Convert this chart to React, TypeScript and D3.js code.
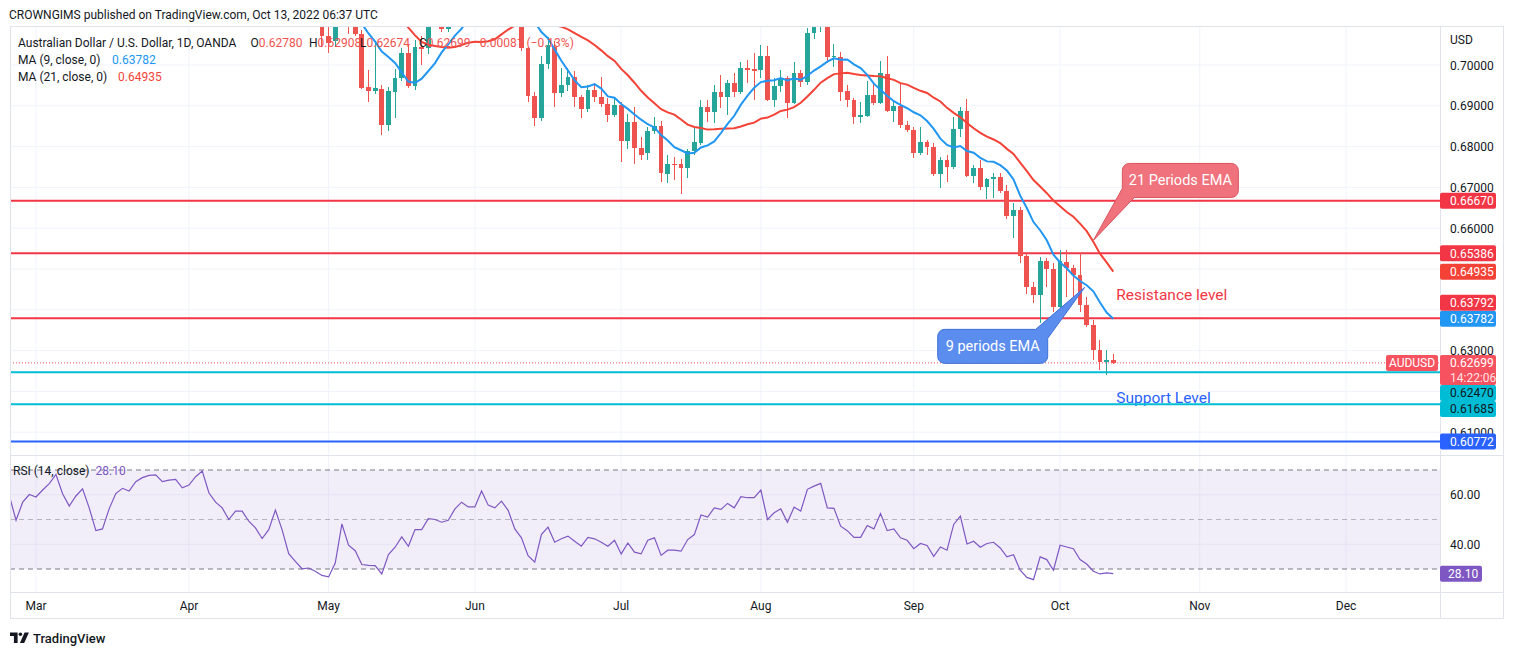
import React from 'react';
import * as d3 from 'd3';

const FONT = "Roboto, 'Liberation Sans', Arial, sans-serif";
const W = 1514;
const H = 655;

// AUDUSD daily bars, one per weekday starting Feb 23 2022
const opens = [
  0.7265, 0.7235, 0.717, 0.723, 0.7265, 0.7255, 0.7285, 0.732, 0.736, 0.73,
  0.727, 0.731, 0.733, 0.7285, 0.721, 0.7215, 0.728, 0.7365, 0.739, 0.7385,
  0.745, 0.7475, 0.749, 0.7495, 0.747, 0.748, 0.7485, 0.7465, 0.748, 0.754,
  0.759, 0.753, 0.7495, 0.747, 0.742, 0.7455, 0.7455, 0.741, 0.739, 0.735,
  0.7375, 0.7445, 0.738, 0.7245, 0.718, 0.715, 0.715, 0.7125, 0.707, 0.7058,
  0.71, 0.724, 0.715, 0.7075, 0.6947, 0.6937, 0.694, 0.6852, 0.6934, 0.6968,
  0.7029, 0.6949, 0.7044, 0.7042, 0.7105, 0.712, 0.7088, 0.7115, 0.716, 0.718,
  0.7175, 0.715, 0.722, 0.719, 0.718, 0.7195, 0.7185, 0.714, 0.7042, 0.6924,
  0.687, 0.7002, 0.7044, 0.6932, 0.6951, 0.697, 0.6922, 0.6891, 0.6939, 0.6922,
  0.6904, 0.6877, 0.6902, 0.6814, 0.6861, 0.6796, 0.6785, 0.6839, 0.685, 0.6733,
  0.6757, 0.6757, 0.6747, 0.679, 0.6808, 0.6896, 0.6886, 0.6935, 0.6922, 0.6957,
  0.6935, 0.6992, 0.6989, 0.6988, 0.7022, 0.6914, 0.6949, 0.6967, 0.6908, 0.698,
  0.6959, 0.7078, 0.71, 0.7115, 0.7019, 0.702, 0.6937, 0.6914, 0.6873, 0.6876,
  0.6927, 0.6907, 0.6978, 0.6888, 0.69, 0.6853, 0.6841, 0.6784, 0.6811, 0.6799,
  0.6733, 0.6767, 0.6749, 0.6842, 0.6888, 0.6728, 0.6747, 0.67, 0.672, 0.6725,
  0.6692, 0.663, 0.6645, 0.6532, 0.6455, 0.6436, 0.652, 0.6499, 0.6406, 0.6518,
  0.6502, 0.6485, 0.6412, 0.6363, 0.6301, 0.6273, 0.6278,
];
const highs = [
  0.729, 0.725, 0.724, 0.7275, 0.7285, 0.73, 0.734, 0.7375, 0.744, 0.733,
  0.733, 0.735, 0.734, 0.73, 0.723, 0.729, 0.737, 0.74, 0.741, 0.746,
  0.749, 0.75, 0.751, 0.75, 0.751, 0.75, 0.7535, 0.751, 0.755, 0.766,
  0.76, 0.755, 0.751, 0.748, 0.747, 0.748, 0.746, 0.742, 0.74, 0.739,
  0.746, 0.746, 0.739, 0.726, 0.7215, 0.7185, 0.717, 0.7135, 0.7095, 0.7135,
  0.7265, 0.7266, 0.716, 0.7085, 0.6988, 0.706, 0.695, 0.6945, 0.699, 0.7042,
  0.705, 0.7062, 0.7072, 0.7125, 0.7135, 0.713, 0.713, 0.717, 0.719, 0.719,
  0.718, 0.723, 0.723, 0.725, 0.723, 0.7283, 0.72, 0.716, 0.7045, 0.6935,
  0.7022, 0.7069, 0.706, 0.6992, 0.6992, 0.6985, 0.6926, 0.6951, 0.6955, 0.6971,
  0.6918, 0.6918, 0.691, 0.6881, 0.6898, 0.6824, 0.6848, 0.6873, 0.6862, 0.6779,
  0.6775, 0.677, 0.6794, 0.6848, 0.6914, 0.6914, 0.6951, 0.6975, 0.6963, 0.698,
  0.7008, 0.7012, 0.703, 0.7048, 0.7047, 0.6968, 0.6988, 0.6973, 0.7008, 0.6988,
  0.709, 0.7137, 0.713, 0.7125, 0.7051, 0.7033, 0.6951, 0.6919, 0.691, 0.696,
  0.6953, 0.701, 0.7021, 0.6915, 0.6956, 0.6862, 0.6848, 0.6848, 0.6816, 0.6808,
  0.6775, 0.6779, 0.6873, 0.6898, 0.6916, 0.6755, 0.6767, 0.6722, 0.6735, 0.6735,
  0.6706, 0.6661, 0.6653, 0.6538, 0.6469, 0.653, 0.6526, 0.6514, 0.6547, 0.6547,
  0.651, 0.6538, 0.6432, 0.6375, 0.6326, 0.6301, 0.62908,
];
const lows = [
  0.722, 0.7102, 0.716, 0.72, 0.723, 0.724, 0.727, 0.73, 0.729, 0.725,
  0.726, 0.728, 0.727, 0.72, 0.7165, 0.719, 0.727, 0.734, 0.736, 0.738,
  0.744, 0.746, 0.747, 0.745, 0.746, 0.747, 0.7455, 0.745, 0.7475, 0.7535,
  0.75, 0.7465, 0.745, 0.74, 0.741, 0.742, 0.739, 0.738, 0.733, 0.734,
  0.736, 0.737, 0.7235, 0.715, 0.713, 0.7115, 0.7105, 0.7045, 0.703, 0.7045,
  0.7092, 0.7075, 0.707, 0.694, 0.691, 0.693, 0.6828, 0.6838, 0.687, 0.696,
  0.6944, 0.6938, 0.7, 0.7028, 0.7098, 0.708, 0.7082, 0.7098, 0.715, 0.714,
  0.713, 0.714, 0.717, 0.7175, 0.715, 0.718, 0.713, 0.7035, 0.691, 0.685,
  0.6862, 0.699, 0.6898, 0.6922, 0.6937, 0.6898, 0.687, 0.6885, 0.691, 0.6898,
  0.6861, 0.6872, 0.6763, 0.6793, 0.6758, 0.6767, 0.6767, 0.683, 0.6714, 0.6712,
  0.6719, 0.6684, 0.6723, 0.678, 0.6804, 0.686, 0.6858, 0.6895, 0.6877, 0.6922,
  0.6929, 0.6955, 0.6914, 0.6968, 0.6912, 0.6898, 0.6935, 0.6869, 0.6904, 0.6947,
  0.695, 0.7063, 0.7082, 0.7005, 0.6995, 0.6912, 0.6897, 0.6855, 0.6858, 0.6872,
  0.6902, 0.6905, 0.6885, 0.686, 0.6846, 0.6836, 0.6772, 0.6779, 0.6779, 0.6728,
  0.6699, 0.6714, 0.6744, 0.6824, 0.6725, 0.671, 0.6694, 0.6671, 0.6673, 0.6686,
  0.6622, 0.6575, 0.6514, 0.6439, 0.6416, 0.6367, 0.6457, 0.6395, 0.6404, 0.6432,
  0.6416, 0.6395, 0.6359, 0.6277, 0.6252, 0.624, 0.62674,
];
const closes = [
  0.7235, 0.717, 0.723, 0.7265, 0.7255, 0.7285, 0.732, 0.736, 0.73, 0.727,
  0.731, 0.733, 0.7285, 0.721, 0.7215, 0.728, 0.7365, 0.739, 0.7385, 0.745,
  0.7475, 0.749, 0.7495, 0.747, 0.748, 0.7485, 0.7465, 0.748, 0.754, 0.759,
  0.753, 0.7495, 0.747, 0.742, 0.7455, 0.7455, 0.741, 0.739, 0.735, 0.7375,
  0.7445, 0.738, 0.7245, 0.718, 0.715, 0.715, 0.7125, 0.707, 0.7055, 0.71,
  0.724, 0.715, 0.7075, 0.6944, 0.6937, 0.6944, 0.6852, 0.6936, 0.6968, 0.7029,
  0.6949, 0.7044, 0.704, 0.7105, 0.712, 0.7088, 0.7115, 0.716, 0.718, 0.7175,
  0.715, 0.722, 0.719, 0.718, 0.7195, 0.7185, 0.714, 0.7042, 0.6924, 0.687,
  0.7002, 0.7049, 0.6932, 0.6951, 0.697, 0.6922, 0.6891, 0.6939, 0.6922, 0.6904,
  0.6877, 0.6902, 0.6814, 0.6861, 0.6796, 0.6779, 0.6839, 0.685, 0.6735, 0.6757,
  0.6755, 0.6747, 0.679, 0.6812, 0.6896, 0.6886, 0.6935, 0.6922, 0.6957, 0.6935,
  0.6992, 0.6988, 0.6986, 0.7022, 0.6914, 0.6949, 0.6967, 0.6908, 0.698, 0.6959,
  0.7078, 0.71, 0.7115, 0.7019, 0.7022, 0.6935, 0.6914, 0.6873, 0.6877, 0.6927,
  0.6907, 0.698, 0.6888, 0.69, 0.6853, 0.6841, 0.6784, 0.6811, 0.6799, 0.6733,
  0.6767, 0.6749, 0.6842, 0.6888, 0.6728, 0.6747, 0.67, 0.672, 0.6725, 0.6692,
  0.663, 0.6645, 0.6532, 0.6455, 0.6436, 0.652, 0.6499, 0.6406, 0.652, 0.6502,
  0.6485, 0.6412, 0.6363, 0.6301, 0.6273, 0.6278, 0.62699,
];
const rsiValues = [
  59.5, 49.7, 57.0, 60.1, 59.1, 61.9, 64.5, 68.2, 60.4, 55.4,
  59.5, 62.4, 54.7, 45.5, 46.2, 54.3, 60.5, 62.6, 61.5, 65.3,
  66.9, 67.8, 68.0, 65.3, 65.9, 66.2, 62.8, 63.9, 67.3, 69.6,
  60.8, 57.0, 54.7, 50.0, 53.4, 53.4, 49.3, 46.6, 42.3, 45.9,
  53.8, 45.9, 36.2, 33.1, 30.1, 30.4, 29.1, 27.4, 26.8, 32.4,
  48.2, 39.6, 37.4, 31.8, 31.5, 31.4, 28.0, 35.8, 38.8, 43.0,
  39.2, 45.9, 45.9, 50.3, 50.0, 48.9, 49.7, 54.3, 57.0, 55.1,
  55.1, 61.5, 55.8, 54.7, 57.4, 53.7, 46.2, 42.6, 35.4, 32.8,
  43.9, 46.9, 40.8, 42.2, 43.3, 41.2, 39.2, 42.8, 42.2, 40.8,
  39.2, 41.6, 36.1, 40.5, 36.8, 36.1, 41.6, 42.6, 35.5, 37.6,
  37.6, 37.2, 41.9, 43.9, 51.8, 51.0, 54.7, 54.1, 56.5, 54.7,
  59.2, 58.8, 58.8, 61.9, 50.0, 52.7, 54.3, 48.9, 55.0, 53.4,
  62.2, 63.5, 64.6, 54.7, 54.5, 47.3, 45.5, 42.8, 42.8, 47.6,
  46.2, 52.4, 45.5, 46.2, 42.6, 41.6, 38.2, 40.3, 39.5, 35.1,
  38.9, 37.6, 48.0, 51.4, 40.1, 41.2, 38.8, 40.3, 40.8, 38.5,
  34.9, 35.8, 29.5, 26.6, 25.7, 34.9, 33.8, 29.5, 39.6, 38.9,
  38.2, 33.8, 32.0, 29.1, 28.0, 28.4, 28.1,
];

const resistanceLevels = [0.6667, 0.65386, 0.63792];
const supportLevels = [0.6247, 0.61685];
const floorLevel = 0.60772;
const priceTicks = [0.7, 0.69, 0.68, 0.67, 0.66, 0.65, 0.64, 0.63, 0.62, 0.61];
const rsiTicks = [60, 40];
const monthLabels = ['Mar', 'Apr', 'May', 'Jun', 'Jul', 'Aug', 'Sep', 'Oct', 'Nov', 'Dec'];
const countdown = '14:22:06';

const UP = '#26A69A';
const DOWN = '#EF5350';
const RED = '#F23645';
const MA9_COLOR = '#2196F3';
const MA21_COLOR = '#F44336';
const LAST_COLOR = '#F7525F';
const CYAN = '#00BCD4';
const BLUE = '#2962FF';
const RSI_COLOR = '#7E57C2';
const GRID = '#F0F3FA';
const BORDER = '#E0E3EB';
const TEXT = '#131722';

// layout
const left = 10;
const axisX = 1440;
const right = 1504;
const top = 26;
const mainBottom = 455;
const rsiTop = 456;
const rsiBottom = 592;
const frameBottom = 619;

const tradingDays = d3
  .timeDay.range(new Date(2022, 1, 23), new Date(2023, 0, 1))
  .filter(d => d.getDay() !== 0 && d.getDay() !== 6);
const monthStart = monthLabels.map((_, k) => tradingDays.findIndex(d => d.getMonth() === k + 2));

const xScale = d3.scaleLinear().domain([0.09, 215.13]).range([left, axisX]);
const yScale = d3.scaleLinear().domain([0.7, 0.61]).range([65, 432.2]);
const rsiY = d3.scaleLinear().domain([70, 30]).range([470, 569]);

const sma = (n: number) =>
  closes.map((_, i) => (i < n - 1 ? null : (d3.mean(closes.slice(i - n + 1, i + 1)) as number)));
const ma9 = sma(9);
const ma21 = sma(21);

const fmt = d3.format('.5f');
const last = closes.length - 1;

const maLine = d3
  .line<number | null>()
  .defined(d => d != null)
  .x((_, i) => xScale(i))
  .y(d => yScale(d as number));
const rsiLine = d3
  .line<number>()
  .x((_, i) => xScale(i))
  .y(d => rsiY(d));

type Tag = { price: number; text: string; fill: string; ink: string; fixed: boolean; sub?: string };
type Placed = Tag & { cy: number; top: number; bottom: number };

function layoutTags(): Placed[] {
  const tags: Tag[] = [
    { price: ma21[last] as number, text: fmt(ma21[last] as number), fill: MA21_COLOR, ink: '#fff', fixed: true },
    { price: ma9[last] as number, text: fmt(ma9[last] as number), fill: MA9_COLOR, ink: '#fff', fixed: true },
    { price: closes[last], text: fmt(closes[last]), fill: LAST_COLOR, ink: '#fff', fixed: true, sub: countdown },
    ...resistanceLevels.map(p => ({ price: p, text: fmt(p), fill: RED, ink: '#fff', fixed: false })),
    ...supportLevels.map(p => ({ price: p, text: fmt(p), fill: CYAN, ink: TEXT, fixed: false })),
    { price: floorLevel, text: fmt(floorLevel), fill: BLUE, ink: '#fff', fixed: false },
  ];
  const placed: Placed[] = [];
  tags.filter(t => t.fixed).forEach(t => {
    const cy = yScale(t.price);
    placed.push({ ...t, cy, top: cy - 8, bottom: t.sub ? cy + 22 : cy + 8 });
  });
  tags
    .filter(t => !t.fixed)
    .sort((a, b) => b.price - a.price)
    .forEach(t => {
      let cy = yScale(t.price);
      for (let pass = 0; pass < 4; pass++) {
        for (const b of placed) {
          if (cy - 8 < b.bottom && cy + 8 > b.top) cy = cy < b.cy ? b.top - 8 : b.bottom + 8;
        }
      }
      placed.push({ ...t, cy, top: cy - 8, bottom: cy + 8 });
    });
  return placed;
}

function Callouts() {
  const t21 = [xScale(163), yScale(0.657)];
  const b21 = { x: t21[0] + 29, y: t21[1] - 77, w: 116, h: 34 };
  const t9 = [xScale(161.7), yScale(0.6455)];
  const b9 = { x: t9[0] - 147, y: t9[1] + 42, w: 110, h: 34 };
  const r = 7;
  const p21 = `M${b21.x + r},${b21.y} H${b21.x + b21.w - r} A${r},${r} 0 0 1 ${b21.x + b21.w},${b21.y + r}
    V${b21.y + b21.h - r} A${r},${r} 0 0 1 ${b21.x + b21.w - r},${b21.y + b21.h}
    H${b21.x + 12} L${t21[0]},${t21[1]} L${b21.x},${b21.y + b21.h - 9} V${b21.y + r}
    A${r},${r} 0 0 1 ${b21.x + r},${b21.y} Z`;
  const p9 = `M${b9.x + r},${b9.y} H${b9.x + b9.w - 12} L${t9[0]},${t9[1]} L${b9.x + b9.w},${b9.y + 9}
    V${b9.y + b9.h - r} A${r},${r} 0 0 1 ${b9.x + b9.w - r},${b9.y + b9.h}
    H${b9.x + r} A${r},${r} 0 0 1 ${b9.x},${b9.y + b9.h - r} V${b9.y + r}
    A${r},${r} 0 0 1 ${b9.x + r},${b9.y} Z`;
  return (
    <g fontFamily={FONT}>
      <path d={p21} fill="#F0727C" stroke="#D9535E" strokeWidth={1} />
      <text x={b21.x + b21.w / 2} y={b21.y + 22} textAnchor="middle" fill="#fff" fontSize={14.5}>
        21 Periods EMA
      </text>
      <path d={p9} fill="#5B8DEF" stroke="#3F6FD8" strokeWidth={1} />
      <text x={b9.x + b9.w / 2} y={b9.y + 22} textAnchor="middle" fill="#fff" fontSize={14.5}>
        9 periods EMA
      </text>
    </g>
  );
}

export default function App() {
  const tags = layoutTags();
  const tickVisible = (p: number) => {
    const y = yScale(p);
    return !tags.some(t => y >= t.top && y <= t.bottom);
  };
  const lastY = yScale(closes[last]);
  const change = closes[last] - closes[last - 1];
  const pct = (change / closes[last - 1]) * 100;
  const minus = (v: number, d: number) => (v < 0 ? '\u2212' : '+') + Math.abs(v).toFixed(d);
  const bodyW = 4.8;
  const rsiLast = rsiValues[rsiValues.length - 1];
  const textX = xScale(last) + 3;

  return (
    <svg
      width={W}
      height={H}
      style={{ position: 'absolute', left: 0, top: 0, background: '#fff' }}
      fontFamily={FONT}
    >
      <defs>
        <clipPath id="mainClip">
          <rect x={left} y={top} width={axisX - left} height={mainBottom - top} />
        </clipPath>
        <clipPath id="rsiClip">
          <rect x={left} y={rsiTop} width={axisX - left} height={rsiBottom - rsiTop} />
        </clipPath>
      </defs>

      <text x={9} y={19} fontSize={12} fill={TEXT}>
        CROWNGIMS published on TradingView.com, Oct 13, 2022 06:37 UTC
      </text>

      {/* grid */}
      {monthStart.map((i, k) => (
        <line key={'vg' + k} x1={xScale(i)} x2={xScale(i)} y1={top} y2={rsiBottom} stroke={GRID} />
      ))}
      {priceTicks.map(p => (
        <line key={'hg' + p} x1={left} x2={axisX} y1={yScale(p)} y2={yScale(p)} stroke={GRID} />
      ))}
      {rsiTicks.map(v => (
        <line key={'rg' + v} x1={left} x2={axisX} y1={rsiY(v)} y2={rsiY(v)} stroke={GRID} />
      ))}

      {/* main pane */}
      <g clipPath="url(#mainClip)">
        <text x={textX} y={yScale(supportLevels[1]) - 1.5} fontSize={15.5} fill={BLUE}>
          Support Level
        </text>
        {resistanceLevels.map(p => (
          <line key={'r' + p} x1={left} x2={axisX} y1={yScale(p)} y2={yScale(p)} stroke={RED} strokeWidth={2} />
        ))}
        {supportLevels.map(p => (
          <line key={'s' + p} x1={left} x2={axisX} y1={yScale(p)} y2={yScale(p)} stroke={CYAN} strokeWidth={2} />
        ))}
        <line x1={left} x2={axisX} y1={yScale(floorLevel)} y2={yScale(floorLevel)} stroke={BLUE} strokeWidth={2} />
        <line
          x1={left}
          x2={axisX}
          y1={lastY}
          y2={lastY}
          stroke={LAST_COLOR}
          strokeDasharray="1,2"
        />
        {closes.map((c, i) => {
          const o = opens[i];
          const color = c >= o ? UP : DOWN;
          const x = xScale(i);
          const yTop = yScale(Math.max(o, c));
          const yBot = yScale(Math.min(o, c));
          return (
            <g key={'c' + i} shapeRendering="crispEdges">
              <line x1={x} x2={x} y1={yScale(highs[i])} y2={yScale(lows[i])} stroke={color} />
              <rect x={x - bodyW / 2} y={yTop} width={bodyW} height={Math.max(1, yBot - yTop)} fill={color} />
            </g>
          );
        })}
        <path d={maLine(ma21) || ''} fill="none" stroke={MA21_COLOR} strokeWidth={2} />
        <path d={maLine(ma9) || ''} fill="none" stroke={MA9_COLOR} strokeWidth={2} />
        <text x={textX} y={yScale(resistanceLevels[2]) - 18} fontSize={15.5} fill={RED}>
          Resistance level
        </text>
      </g>

      {/* legend */}
      <g fontSize={12}>
        <text x={18} y={47} fill={TEXT}>
          Australian Dollar / U.S. Dollar, 1D, OANDA
        </text>
        {[
          ['O', opens[last], 250.5],
          ['H', highs[last], 309],
          ['L', lows[last], 360],
          ['C', closes[last], 419],
        ].map(([k, v, x]) => (
          <text key={k as string} x={x as number} y={47} fill={TEXT}>
            {k as string}
            <tspan fill={DOWN}>{fmt(v as number)}</tspan>
          </text>
        ))}
        <text x={473} y={47} fill={DOWN}>
          {minus(change, 5)} ({minus(pct, 2)}%)
        </text>
        <text x={18} y={64} fill={TEXT}>
          MA (9, close, 0)
        </text>
        <text x={112} y={64} fill={MA9_COLOR}>
          {fmt(ma9[last] as number)}
        </text>
        <text x={18} y={81} fill={TEXT}>
          MA (21, close, 0)
        </text>
        <text x={118} y={81} fill={MA21_COLOR}>
          {fmt(ma21[last] as number)}
        </text>
      </g>

      <Callouts />

      {/* RSI pane */}
      <rect x={left} y={rsiY(70)} width={axisX - left} height={rsiY(30) - rsiY(70)} fill="rgba(126,87,194,0.1)" />
      {[70, 30].map(v => (
        <line key={'rd' + v} x1={left} x2={axisX} y1={rsiY(v)} y2={rsiY(v)} stroke="#787B86" strokeDasharray="5,4" />
      ))}
      <line x1={left} x2={axisX} y1={rsiY(50)} y2={rsiY(50)} stroke="rgba(120,123,134,0.5)" strokeDasharray="5,4" />
      <g clipPath="url(#rsiClip)">
        <path d={rsiLine(rsiValues) || ''} fill="none" stroke={RSI_COLOR} strokeWidth={1.2} />
      </g>
      <text x={13} y={475} fontSize={12} fill={TEXT}>
        RSI (14, close)
        <tspan dx={6} fill={RSI_COLOR}>
          {rsiLast.toFixed(2)}
        </tspan>
      </text>

      {/* frame */}
      <rect x={left + 0.5} y={top + 0.5} width={right - left - 1} height={frameBottom - top - 1} fill="none" stroke={BORDER} />
      <line x1={axisX + 0.5} x2={axisX + 0.5} y1={top} y2={frameBottom} stroke={BORDER} />
      <line x1={left} x2={right} y1={mainBottom + 0.5} y2={mainBottom + 0.5} stroke={BORDER} />
      <line x1={left} x2={right} y1={rsiBottom + 0.5} y2={rsiBottom + 0.5} stroke={BORDER} />

      {/* price axis */}
      <g fontSize={12} fill={TEXT}>
        <text x={1450} y={44}>USD</text>
        {priceTicks.filter(tickVisible).map(p => (
          <text key={'pt' + p} x={1450} y={yScale(p) + 4.5}>
            {fmt(p)}
          </text>
        ))}
        {rsiTicks.map(v => (
          <text key={'rt' + v} x={1450} y={rsiY(v) + 4.5}>
            {v.toFixed(2)}
          </text>
        ))}
      </g>
      <g fontSize={12}>
        {tags.map(t => (
          <g key={'tag' + t.price}>
            <rect x={axisX} y={t.top} width={56} height={t.bottom - t.top} rx={2} fill={t.fill} />
            <text x={1450} y={t.cy + 4.5} fill={t.ink}>
              {t.text}
            </text>
            {t.sub && (
              <text x={1450} y={t.cy + 19.5} fill={t.ink} fillOpacity={0.85}>
                {t.sub}
              </text>
            )}
          </g>
        ))}
        <rect x={1386} y={lastY - 8} width={52} height={16} rx={2} fill={LAST_COLOR} />
        <text x={1412} y={lastY + 4.5} fill="#fff" textAnchor="middle">
          AUDUSD
        </text>
        <rect x={axisX} y={rsiY(rsiLast) - 8} width={42} height={16} rx={2} fill={RSI_COLOR} />
        <text x={1448} y={rsiY(rsiLast) + 4.5} fill="#fff">
          {rsiLast.toFixed(2)}
        </text>
      </g>

      {/* time axis */}
      <g fontSize={12} fill={TEXT} textAnchor="middle">
        {monthStart.map((i, k) => (
          <text key={'m' + k} x={xScale(i)} y={610}>
            {monthLabels[k]}
          </text>
        ))}
      </g>

      {/* logo */}
      <g fill={TEXT}>
        <path d="M10 632.5 h7.6 v10.5 h-3.7 v-7 h-3.9 z" />
        <circle cx={20.4} cy={634.3} r={1.8} />
        <path d="M24.6 632.5 h4.3 l-4.7 10.5 h-4.3 z" />
        <text x={33} y={642.5} fontSize={13} fontWeight={500}>
          TradingView
        </text>
      </g>
    </svg>
  );
}
